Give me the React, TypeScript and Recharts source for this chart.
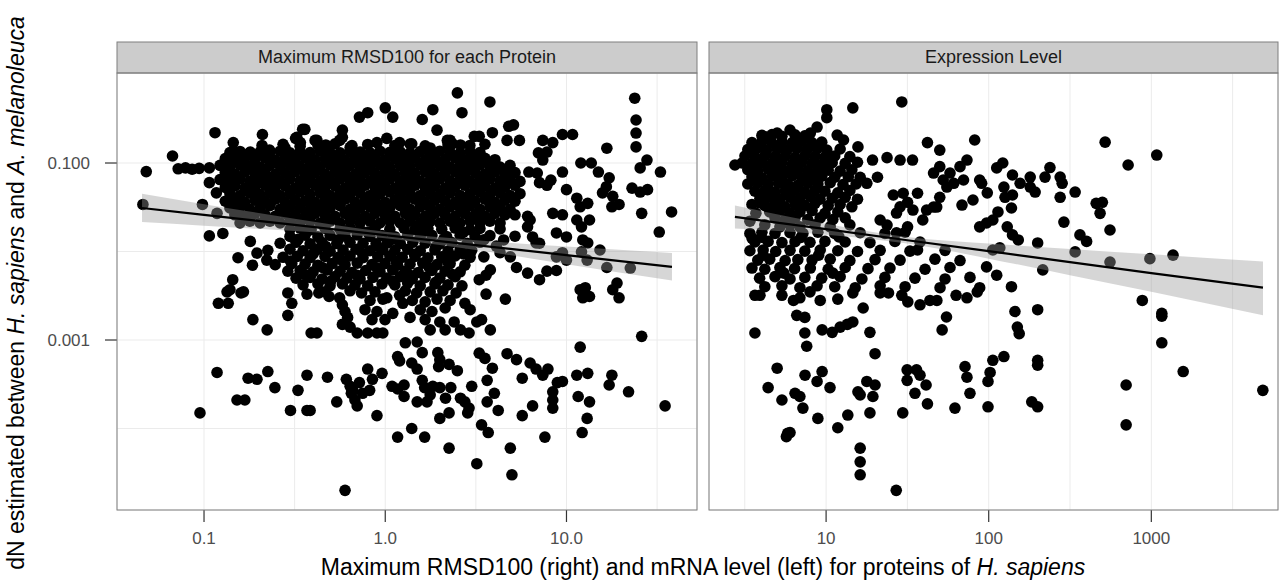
import React from "react";
import { ComposedChart, Scatter, Area, Line, XAxis, YAxis, CartesianGrid } from "recharts";

// left facet: [max RMSD100, dN]
const rmsdPoints: [number, number][] = [
  // sparse, top / left
  [0.046, 0.034], [0.048, 0.08], [0.067, 0.12], [0.072, 0.086], [0.079, 0.088], [0.086, 0.085], [0.094, 0.087],
  [0.107, 0.088], [0.107, 0.06], [0.117, 0.046], [0.098, 0.034], [0.115, 0.22], [0.21, 0.21], [0.145, 0.17],
  [0.15, 0.13], [0.35, 0.24], [0.325, 0.195], [0.42, 0.18], [0.58, 0.235], [0.58, 0.195], [0.72, 0.33],
  [0.8, 0.37], [1.0, 0.42], [1.1, 0.33], [2.5, 0.62], [3.78, 0.49], [1.83, 0.4], [2.65, 0.37], [1.6, 0.31],
  [1.93, 0.235], [2.2, 0.18], [2.35, 0.165], [3.3, 0.2], [3.9, 0.22], [4.8, 0.26], [5.1, 0.27], [4.7, 0.18],
  [5.5, 0.18], [7.4, 0.18], [8.4, 0.17], [9.5, 0.21], [10.8, 0.21], [7.0, 0.13], [7.8, 0.133], [7.4, 0.108],
  [6.2, 0.079], [6.9, 0.077], [7.1, 0.06], [9.5, 0.079], [8.2, 0.064], [7.8, 0.056], [10, 0.05], [12, 0.1],
  [13.7, 0.1], [15, 0.079], [16.7, 0.147], [17.2, 0.068], [16.6, 0.054], [15.8, 0.046], [18, 0.042],
  [19.5, 0.034], [17.8, 0.032], [23.8, 0.54], [24.2, 0.306], [24.2, 0.218], [24.2, 0.152], [27.8, 0.108],
  [25.5, 0.088], [23, 0.052], [25.5, 0.047], [28, 0.05], [33, 0.079], [26, 0.027], [38, 0.028], [32.5, 0.0166],
  [11.4, 0.04], [13.1, 0.035], [11.9, 0.032], [11.4, 0.0227], [13.4, 0.0227], [12.1, 0.019], [8.4, 0.027],
  [9.5, 0.026], [8.8, 0.0162], [10, 0.0146], [12.3, 0.0135], [13.1, 0.0125], [15.3, 0.0104], [9.5, 0.0097],
  [12.1, 0.0099], [8.8, 0.0087], [10, 0.008], [13.0, 0.008], [16.7, 0.0066], [19, 0.0044], [12.7, 0.0039],
  [13.4, 0.0031], [22.5, 0.0065], [6.1, 0.019], [6.5, 0.0146], [6.8, 0.0125], [7.1, 0.0124], [5.3, 0.0066],
  [6.1, 0.0057], [7.1, 0.0048], [7.8, 0.006], [8.8, 0.0061], [6.3, 0.0227], [6.1, 0.025], [5.2, 0.026],
  [4.5, 0.0135], [4.1, 0.0115], [4.3, 0.0097], [4.9, 0.0087], [3.5, 0.0087], [3.8, 0.0062], [3.3, 0.0048],
  [3.6, 0.0054],
  // ragged top edge of the dense band
  [0.36, 0.24], [0.32, 0.19], [0.34, 0.17], [0.41, 0.18], [0.47, 0.16], [0.56, 0.18], [0.64, 0.15],
  [0.9, 0.17], [1.02, 0.19], [1.2, 0.17], [1.4, 0.165], [1.77, 0.148], [2.28, 0.18], [2.6, 0.16], [3.1, 0.2],
  [0.18, 0.133], [0.23, 0.14], [0.28, 0.148],
  // sparse, lower left
  [0.107, 0.015], [0.127, 0.016], [0.18, 0.013], [0.154, 0.0085], [0.196, 0.0096], [0.222, 0.008], [0.185, 0.007],
  [0.144, 0.0048], [0.165, 0.0035], [0.139, 0.0037], [0.118, 0.027], [0.152, 0.027], [0.12, 0.0026],
  [0.136, 0.0026], [0.16, 0.0034], [0.134, 0.0035], [0.186, 0.0017], [0.223, 0.0013], [0.29, 0.0034],
  [0.305, 0.0026], [0.29, 0.0019], [0.37, 0.0033], [0.43, 0.0034], [0.49, 0.0031], [0.39, 0.0012], [0.42, 0.0012],
  [0.56, 0.003], [0.58, 0.0025], [0.6, 0.0021], [0.62, 0.0018], [0.58, 0.0015], [0.64, 0.0014], [0.7, 0.0012],
  [0.8, 0.0012], [0.9, 0.0012], [0.97, 0.0012], [0.9, 0.0021], [1.1, 0.002], [1.25, 0.0026], [1.2, 0.0032],
  [1.02, 0.003], [1.29, 0.00093], [1.17, 0.00065], [1.2, 0.00058], [0.118, 0.00043], [0.175, 0.00037],
  [0.196, 0.00036], [0.225, 0.00044], [0.246, 0.00029], [0.152, 0.00021], [0.168, 0.00021], [0.095, 0.00015],
  [0.3, 0.00016], [0.37, 0.00016], [0.385, 0.00016], [0.33, 0.00027], [0.37, 0.0004], [0.48, 0.00038],
  [0.54, 0.0002], [0.61, 0.00036], [0.64, 0.0003], [0.65, 0.00025], [0.68, 0.00021], [0.7, 0.00018],
  [0.75, 0.00025], [0.82, 0.00027], [0.85, 0.00036], [0.8, 0.00047], [0.96, 0.00042], [0.72, 0.00033],
  [0.66, 0.00027], [0.9, 0.00014], [1.17, 0.00008], [0.6, 0.00002], [1.09, 0.0003], [1.17, 0.00028],
  [1.27, 0.00031], [1.27, 0.00023],
  // sparse, lower right
  [3.8, 0.0013], [1.5, 0.00095], [1.6, 0.00072], [1.4, 0.00055], [1.5, 0.00047], [1.95, 0.00072], [2.0, 0.0006],
  [1.97, 0.0005], [2.25, 0.00053], [2.5, 0.00045], [1.6, 0.00035], [1.65, 0.00029], [1.77, 0.00024],
  [1.83, 0.0003], [2.0, 0.00029], [2.3, 0.00029], [1.5, 0.0002], [1.7, 0.0002], [2.15, 0.00022], [2.6, 0.00022],
  [2.75, 0.0002], [2.9, 0.00017], [2.25, 0.00015], [2.0, 0.00013], [2.85, 0.00015], [1.4, 0.0001],
  [1.65, 0.00008], [2.25, 0.00006], [3.3, 0.00071], [3.55, 0.00062], [3.9, 0.00048], [3.65, 0.00035],
  [3.0, 0.0003], [4.0, 0.00025], [3.65, 0.0002], [4.2, 0.00016], [3.4, 0.00011], [3.7, 0.00009], [3.2, 0.00004],
  [4.9, 0.00006], [5.0, 0.00003], [4.7, 0.0007], [5.3, 0.0006], [6.3, 0.00055], [6.8, 0.00047], [7.4, 0.0004],
  [7.9, 0.00047], [5.7, 0.00037], [8.4, 0.00026], [8.9, 0.00033], [9.5, 0.00034], [8.4, 0.00021], [8.4, 0.00017],
  [6.5, 0.00018], [5.7, 0.00014], [7.6, 0.00008], [11.9, 0.00083], [11.4, 0.0004], [13.1, 0.00042],
  [11.6, 0.00023], [13.4, 0.0002], [13, 0.00013], [12.2, 0.00009], [17.8, 0.0004], [17.2, 0.00031], [22, 0.00026],
  [26, 0.0011], [35, 0.00018], [11.9, 0.0037], [12.3, 0.003], [18, 0.0037], [19.5, 0.003], [2.75, 0.0026],
  [3.4, 0.0017], [3.2, 0.0016], [2.4, 0.0016], [2.6, 0.0013], [2.9, 0.0012], [3.6, 0.0033], [4.6, 0.0029],
  // dense band, above the fit
  [0.209, 0.158], [0.273, 0.163], [0.339, 0.155], [0.425, 0.16], [0.528, 0.165], [0.655, 0.157], [0.8, 0.162],
  [1.13, 0.158], [1.37, 0.164], [1.66, 0.156], [2.22, 0.16], [2.93, 0.158], [3.55, 0.163],
  [0.139, 0.131], [0.158, 0.135], [0.179, 0.13], [0.204, 0.134], [0.231, 0.132], [0.263, 0.136], [0.298, 0.13],
  [0.339, 0.134], [0.385, 0.131], [0.437, 0.137], [0.496, 0.132], [0.563, 0.13], [0.639, 0.135], [0.726, 0.133],
  [0.824, 0.13], [0.935, 0.136], [1.06, 0.132], [1.21, 0.134], [1.37, 0.13], [1.56, 0.135], [1.77, 0.131],
  [2.0, 0.136], [2.28, 0.132], [2.59, 0.13], [2.94, 0.134], [3.33, 0.131],
  [0.131, 0.112], [0.148, 0.109], [0.168, 0.113], [0.191, 0.11], [0.217, 0.114], [0.247, 0.108], [0.28, 0.112],
  [0.318, 0.11], [0.361, 0.114], [0.41, 0.109], [0.465, 0.111], [0.528, 0.113], [0.6, 0.108], [0.681, 0.112],
  [0.773, 0.11], [0.878, 0.114], [0.997, 0.109], [1.13, 0.112], [1.29, 0.11], [1.46, 0.113], [1.66, 0.108],
  [1.88, 0.112], [2.14, 0.11], [2.43, 0.114], [2.75, 0.109], [3.13, 0.111], [3.55, 0.113], [4.03, 0.109],
  [0.1225, 0.094], [0.139, 0.091], [0.158, 0.095], [0.179, 0.092], [0.204, 0.09], [0.231, 0.094], [0.263, 0.092],
  [0.298, 0.096], [0.339, 0.091], [0.385, 0.093], [0.437, 0.09], [0.496, 0.095], [0.563, 0.092], [0.639, 0.094],
  [0.726, 0.091], [0.824, 0.093], [0.935, 0.095], [1.06, 0.09], [1.21, 0.093], [1.37, 0.091], [1.56, 0.095],
  [1.77, 0.092], [2.0, 0.094], [2.28, 0.09], [2.59, 0.093], [2.94, 0.091], [3.33, 0.095], [3.78, 0.092],
  [4.3, 0.09], [4.88, 0.094],
  [0.131, 0.078], [0.148, 0.075], [0.168, 0.079], [0.191, 0.076], [0.217, 0.078], [0.247, 0.074], [0.28, 0.077],
  [0.318, 0.08], [0.361, 0.076], [0.41, 0.078], [0.465, 0.075], [0.528, 0.079], [0.6, 0.077], [0.681, 0.074],
  [0.773, 0.078], [0.878, 0.076], [0.997, 0.079], [1.13, 0.075], [1.29, 0.078], [1.46, 0.076], [1.66, 0.079],
  [1.88, 0.075], [2.14, 0.077], [2.43, 0.08], [2.75, 0.076], [3.13, 0.078], [3.55, 0.075], [4.03, 0.079],
  [4.58, 0.076], [5.2, 0.078],
  [0.1225, 0.065], [0.139, 0.063], [0.158, 0.066], [0.179, 0.062], [0.204, 0.065], [0.231, 0.064], [0.263, 0.062],
  [0.298, 0.066], [0.339, 0.063], [0.385, 0.065], [0.437, 0.062], [0.496, 0.064], [0.563, 0.066], [0.639, 0.063],
  [0.726, 0.065], [0.824, 0.062], [0.935, 0.064], [1.06, 0.066], [1.21, 0.063], [1.37, 0.065], [1.56, 0.062],
  [1.77, 0.064], [2.0, 0.066], [2.28, 0.063], [2.59, 0.065], [2.94, 0.062], [3.33, 0.064], [3.78, 0.066],
  [4.3, 0.063], [4.88, 0.065], [5.54, 0.062],
  [0.131, 0.053], [0.148, 0.055], [0.168, 0.052], [0.191, 0.054], [0.217, 0.056], [0.247, 0.053], [0.28, 0.055],
  [0.318, 0.052], [0.361, 0.054], [0.41, 0.056], [0.465, 0.053], [0.528, 0.055], [0.6, 0.052], [0.681, 0.054],
  [0.773, 0.056], [0.878, 0.053], [0.997, 0.055], [1.13, 0.052], [1.29, 0.054], [1.46, 0.056], [1.66, 0.053],
  [1.88, 0.055], [2.14, 0.052], [2.43, 0.054], [2.75, 0.056], [3.13, 0.053], [3.55, 0.055], [4.03, 0.052],
  [4.58, 0.054], [5.2, 0.056],
  [0.139, 0.045], [0.158, 0.043], [0.179, 0.046], [0.204, 0.044], [0.231, 0.046], [0.263, 0.043], [0.298, 0.045],
  [0.339, 0.047], [0.385, 0.044], [0.437, 0.046], [0.496, 0.043], [0.563, 0.045], [0.639, 0.044], [0.726, 0.046],
  [0.824, 0.043], [0.935, 0.045], [1.06, 0.047], [1.21, 0.044], [1.37, 0.046], [1.56, 0.043], [1.77, 0.045],
  [2.0, 0.044], [2.28, 0.046], [2.59, 0.043], [2.94, 0.045], [3.33, 0.047], [3.78, 0.044], [4.3, 0.046],
  [4.88, 0.043], [5.54, 0.045],
  [0.131, 0.037], [0.148, 0.038], [0.168, 0.036], [0.191, 0.038], [0.217, 0.037], [0.247, 0.039], [0.28, 0.036],
  [0.318, 0.038], [0.361, 0.037], [0.41, 0.036], [0.465, 0.038], [0.528, 0.037], [0.6, 0.039], [0.681, 0.036],
  [0.773, 0.038], [0.878, 0.037], [0.997, 0.036], [1.13, 0.038], [1.29, 0.037], [1.46, 0.039], [1.66, 0.036],
  [1.88, 0.038], [2.14, 0.037], [2.43, 0.036], [2.75, 0.038], [3.13, 0.037], [3.55, 0.039], [4.03, 0.036],
  [4.58, 0.038], [5.2, 0.037],
  [0.139, 0.031], [0.158, 0.032], [0.179, 0.03], [0.204, 0.031], [0.231, 0.033], [0.263, 0.03], [0.298, 0.032],
  [0.339, 0.031], [0.385, 0.03], [0.437, 0.032], [0.496, 0.031], [0.563, 0.033], [0.639, 0.03], [0.726, 0.031],
  [0.824, 0.032], [0.935, 0.03], [1.06, 0.031], [1.21, 0.033], [1.37, 0.03], [1.56, 0.032], [1.77, 0.031],
  [2.0, 0.03], [2.28, 0.032], [2.59, 0.031], [2.94, 0.033], [3.33, 0.03], [3.78, 0.032], [4.3, 0.031], [4.88, 0.03],
  [0.148, 0.026], [0.168, 0.025], [0.191, 0.027], [0.217, 0.026], [0.247, 0.025], [0.28, 0.027], [0.318, 0.026],
  [0.361, 0.025], [0.41, 0.027], [0.465, 0.026], [0.528, 0.025], [0.6, 0.027], [0.681, 0.026], [0.773, 0.025],
  [0.878, 0.027], [0.997, 0.026], [1.13, 0.025], [1.29, 0.027], [1.46, 0.026], [1.66, 0.025], [1.88, 0.027],
  [2.14, 0.026], [2.43, 0.025], [2.75, 0.027], [3.13, 0.026], [3.55, 0.025], [4.03, 0.027], [4.58, 0.026],
  [0.158, 0.021], [0.179, 0.022], [0.204, 0.021], [0.231, 0.022], [0.263, 0.021], [0.298, 0.022], [0.339, 0.021],
  [0.385, 0.022], [0.437, 0.021], [0.496, 0.022], [0.563, 0.021], [0.639, 0.022], [0.726, 0.021], [0.824, 0.022],
  [0.935, 0.021], [1.06, 0.022], [1.21, 0.021], [1.37, 0.022], [1.56, 0.021], [1.77, 0.022], [2.0, 0.021],
  [2.28, 0.022], [2.59, 0.021], [2.94, 0.022], [3.33, 0.021], [3.78, 0.022], [4.3, 0.021],
  // dense band, below the fit
  [0.298, 0.0178], [0.339, 0.0184], [0.39, 0.0176], [0.465, 0.0183], [0.563, 0.0179], [0.64, 0.0185],
  [0.726, 0.0177], [0.878, 0.0182], [1.06, 0.0178], [1.27, 0.0184], [1.46, 0.0177], [1.72, 0.0182],
  [2.05, 0.0179], [2.43, 0.0184], [2.94, 0.0176], [3.33, 0.0182], [4.3, 0.018],
  [0.36, 0.0165], [0.8, 0.0166], [1.6, 0.0164], [2.7, 0.0165],
  [0.298, 0.0148], [0.361, 0.0153], [0.425, 0.0147], [0.496, 0.0152], [0.6, 0.0149], [0.7, 0.0154],
  [0.824, 0.0148], [0.96, 0.0151], [1.13, 0.0147], [1.33, 0.0153], [1.56, 0.0149], [1.81, 0.0152],
  [2.18, 0.0148], [2.59, 0.0153], [3.13, 0.0147], [3.78, 0.0151], [5.2, 0.0149],
  [0.33, 0.0137], [0.55, 0.0136], [1.1, 0.0138], [2.1, 0.0137], [3.5, 0.0136],
  [0.263, 0.0124], [0.322, 0.0127], [0.385, 0.0122], [0.448, 0.0126], [0.54, 0.0123], [0.639, 0.0127],
  [0.754, 0.0124], [0.89, 0.0122], [1.03, 0.0126], [1.21, 0.0123], [1.42, 0.0127], [1.66, 0.0124],
  [2.0, 0.0122], [2.33, 0.0126], [2.83, 0.0124], [3.33, 0.0127],
  [0.47, 0.0114], [0.9, 0.0115], [1.9, 0.0113],
  [0.225, 0.0103], [0.298, 0.0106], [0.352, 0.0102], [0.42, 0.0105], [0.496, 0.0101], [0.585, 0.0104],
  [0.69, 0.0106], [0.824, 0.0102], [0.97, 0.0105], [1.13, 0.0103], [1.33, 0.0106], [1.56, 0.0102],
  [1.88, 0.0104], [2.22, 0.0101], [2.59, 0.0105], [3.0, 0.0103],
  [0.4, 0.0094], [0.75, 0.0095], [1.45, 0.0093], [2.7, 0.0094],
  [0.273, 0.0086], [0.327, 0.0088], [0.385, 0.0085], [0.465, 0.0088], [0.55, 0.0086], [0.639, 0.0089],
  [0.754, 0.0085], [0.91, 0.0087], [1.06, 0.0089], [1.24, 0.0086], [1.46, 0.0088], [1.72, 0.0085],
  [2.05, 0.0087], [2.43, 0.0089], [2.94, 0.0086],
  [0.3, 0.0078], [0.58, 0.0079], [1.15, 0.0077], [2.2, 0.0078],
  [0.247, 0.0071], [0.305, 0.0073], [0.361, 0.0072], [0.425, 0.007], [0.51, 0.0073], [0.6, 0.0071],
  [0.7, 0.0074], [0.845, 0.0071], [0.997, 0.0073], [1.17, 0.007], [1.37, 0.0072], [1.61, 0.0074],
  [1.93, 0.0071], [2.28, 0.0073], [2.75, 0.007],
  [0.45, 0.0066], [0.9, 0.0065], [1.75, 0.0066],
  [0.29, 0.006], [0.339, 0.0061], [0.4, 0.0059], [0.478, 0.0062], [0.563, 0.006], [0.655, 0.0058],
  [0.78, 0.0061], [0.935, 0.0059], [1.1, 0.0062], [1.29, 0.006], [1.52, 0.0058], [1.81, 0.0061],
  [2.14, 0.006], [2.59, 0.0059],
  [0.36, 0.0055], [0.7, 0.0054], [1.35, 0.0055], [2.35, 0.0055],
  [0.322, 0.005], [0.385, 0.0051], [0.448, 0.0049], [0.528, 0.0052], [0.615, 0.005], [0.726, 0.0049],
  [0.855, 0.0051], [1.02, 0.005], [1.21, 0.0052], [1.41, 0.0049], [1.66, 0.0051], [2.0, 0.005], [2.43, 0.0052],
  [0.5, 0.0046], [1.1, 0.0046], [1.9, 0.0045],
  [0.352, 0.0042], [0.425, 0.0043], [0.496, 0.0041], [0.58, 0.0043], [0.681, 0.0042], [0.8, 0.0041],
  [0.96, 0.0043], [1.13, 0.0042], [1.33, 0.0044], [1.56, 0.0041], [1.88, 0.0043], [2.22, 0.0042], [2.65, 0.0041],
  [0.465, 0.0035], [0.639, 0.0036], [0.74, 0.0034], [0.878, 0.0035], [1.29, 0.0036], [1.49, 0.0034],
  [1.77, 0.0035], [2.08, 0.0036], [2.46, 0.0034],
  [0.824, 0.0028], [0.97, 0.0029], [1.41, 0.0028], [1.66, 0.0027], [1.93, 0.0029], [2.28, 0.0028],
  [0.773, 0.0022], [1.56, 0.0022], [1.81, 0.0021], [2.14, 0.0023], [2.94, 0.0022],
  [0.845, 0.0017], [0.997, 0.0017], [1.37, 0.0018], [1.66, 0.0017], [2.0, 0.0016],
  [1.77, 0.0013], [2.14, 0.0013],
];

// right facet: [mRNA level, dN]
const mrnaPoints: [number, number][] = [
  // sparse
  [29.2, 0.49], [14.6, 0.42], [10.1, 0.4], [10.1, 0.325], [8.8, 0.255], [11.7, 0.207], [12.8, 0.182],
  [15.7, 0.152], [42, 0.17], [50, 0.14], [82, 0.182], [5.0, 0.218], [6.0, 0.236], [4.3, 0.196], [8.0, 0.218],
  [2.75, 0.095], [19.3, 0.108], [23.7, 0.115], [28.5, 0.108], [34, 0.108], [16.2, 0.069], [17.8, 0.059],
  [20.7, 0.069], [25.9, 0.0435], [29.8, 0.0455], [36.5, 0.0455], [31.7, 0.036], [28.5, 0.032], [34.2, 0.0294],
  [27.1, 0.0272], [41.5, 0.0294], [39.3, 0.0227], [45.8, 0.0318], [45.8, 0.077], [50, 0.091], [57.8, 0.077],
  [66.6, 0.091], [73.5, 0.108], [70, 0.0643], [61, 0.059], [52.5, 0.0643], [50, 0.041], [55.3, 0.0535],
  [47.9, 0.0318], [68.5, 0.0335], [80, 0.0382], [90.5, 0.059], [23.7, 0.0199], [27.1, 0.0163], [21.5, 0.0227],
  [36.5, 0.0104], [31.7, 0.019], [3.5, 0.0142], [3.9, 0.0355],
  [520, 0.172], [1080, 0.123], [720, 0.095], [112, 0.088], [122, 0.1], [140, 0.0732], [156, 0.059],
  [180, 0.0693], [180, 0.0535], [238, 0.0889], [222, 0.0693], [275, 0.0693], [283, 0.059], [88, 0.0643],
  [98, 0.046], [124, 0.0535], [140, 0.0435], [126, 0.041], [193, 0.047], [275, 0.041], [340, 0.047],
  [138, 0.031], [114, 0.028], [106, 0.0227], [97, 0.021], [88, 0.019], [458, 0.035], [500, 0.036], [484, 0.027],
  [290, 0.0215], [557, 0.0175], [130, 0.019], [140, 0.0154], [152, 0.0135], [364, 0.0154], [400, 0.013],
  [200, 0.0125], [340, 0.0099], [557, 0.0076], [980, 0.0083], [1360, 0.0091], [215, 0.0062], [106, 0.0104],
  [117, 0.011], [97, 0.0067], [112, 0.0054], [138, 0.004], [88, 0.0039], [880, 0.0028],
  [145, 0.0021], [200, 0.0022], [150, 0.0014], [154, 0.00118], [106, 0.00059], [124, 0.00065], [102, 0.00043],
  [99, 0.00034], [99, 0.000176], [200, 0.00059], [200, 0.00052], [184, 0.0002], [200, 0.000176],
  [1160, 0.002], [1160, 0.00186], [1160, 0.00093], [1570, 0.00044], [700, 0.00031], [700, 0.00011],
  [4850, 0.00027],
  [3.65, 0.0032], [3.92, 0.0032], [5.35, 0.0032], [6.3, 0.0028], [6.9, 0.003], [7.96, 0.0035], [9.2, 0.0028],
  [11.8, 0.0029], [14.6, 0.0034], [16.9, 0.0023], [21.5, 0.0034], [24.2, 0.0034], [29.2, 0.0032],
  [31.8, 0.0027], [37.8, 0.0025], [43.5, 0.0028], [48, 0.0028], [63, 0.0032], [73.5, 0.003], [85, 0.0035],
  [3.65, 0.0012], [6.6, 0.0019], [7.4, 0.0018], [7.4, 0.0012], [7.6, 0.00085], [9.45, 0.0013], [10.9, 0.00122],
  [12.2, 0.0014], [13.5, 0.0015], [14.6, 0.0016], [18.6, 0.00122], [20, 0.0007], [55, 0.00182], [51.7, 0.0013],
  [5.0, 0.00048], [4.4, 0.00029], [5.35, 0.00021], [6.44, 0.00025], [6.9, 0.00023], [7.2, 0.00017],
  [7.42, 0.0004], [9.45, 0.00044], [8.8, 0.00034], [10.57, 0.00029], [8.9, 0.00013], [5.8, 0.000088],
  [6.0, 0.00009], [5.7, 0.000081], [11.8, 0.000102], [13.6, 0.000142], [15.7, 0.00026], [16.2, 0.00024],
  [17.8, 0.00034], [20, 0.00031], [19.4, 0.00023], [18.6, 0.00015], [16.2, 0.00006], [16.2, 0.000042],
  [16.2, 0.00003], [27, 0.00002], [29.6, 0.00015], [31.5, 0.00046], [31.5, 0.00035], [36, 0.00046],
  [37.8, 0.0004], [35.2, 0.00025], [41.2, 0.00031], [42, 0.00019], [62, 0.00017], [71.5, 0.0005],
  [73.5, 0.00038], [76.7, 0.00025],
  // dense block
  [4.03, 0.205], [4.65, 0.21], [5.35, 0.2], [6.44, 0.208], [7.4, 0.203],
  [3.5, 0.17], [4.03, 0.175], [4.65, 0.168], [5.35, 0.173], [6.2, 0.17], [7.1, 0.176], [8.2, 0.169], [9.4, 0.172],
  [3.3, 0.142], [3.75, 0.146], [4.3, 0.14], [5.0, 0.144], [5.75, 0.141], [6.6, 0.146], [7.6, 0.142],
  [8.8, 0.145], [10.1, 0.14], [12.2, 0.144],
  [3.17, 0.12], [3.65, 0.117], [4.2, 0.121], [4.85, 0.118], [5.6, 0.12], [6.44, 0.116], [7.4, 0.121],
  [8.55, 0.119], [9.84, 0.117], [11.3, 0.12], [14, 0.118],
  [3.04, 0.1], [3.5, 0.098], [4.03, 0.102], [4.65, 0.099], [5.35, 0.101], [6.2, 0.098], [7.1, 0.102],
  [8.2, 0.1], [9.4, 0.097], [10.9, 0.101], [13.1, 0.099], [15.6, 0.102],
  [3.3, 0.084], [3.8, 0.082], [4.4, 0.085], [5.1, 0.083], [5.8, 0.081], [6.7, 0.084], [7.7, 0.082],
  [8.9, 0.085], [10.3, 0.083], [12.2, 0.081], [14.4, 0.084],
  [3.5, 0.07], [4.03, 0.068], [4.65, 0.071], [5.35, 0.069], [6.2, 0.072], [7.1, 0.068], [8.2, 0.07],
  [9.4, 0.071], [11.3, 0.069], [13.7, 0.07],
  [3.3, 0.058], [3.8, 0.06], [4.4, 0.057], [5.1, 0.059], [5.8, 0.058], [6.7, 0.056], [7.7, 0.059],
  [8.9, 0.058], [10.6, 0.06], [12.7, 0.057], [15.3, 0.058],
  [3.65, 0.048], [4.2, 0.049], [4.85, 0.047], [5.6, 0.048], [6.44, 0.05], [7.4, 0.047], [8.55, 0.049],
  [9.84, 0.048], [11.8, 0.046], [14, 0.049],
  [3.92, 0.04], [4.52, 0.041], [5.21, 0.039], [6.0, 0.041], [6.9, 0.04], [7.96, 0.042], [9.17, 0.039],
  [10.9, 0.04], [13.1, 0.041], [15.6, 0.039],
  [3.5, 0.034], [4.2, 0.033], [4.85, 0.034], [5.6, 0.032], [6.44, 0.034], [7.4, 0.033], [8.55, 0.035],
  [10.3, 0.033], [12.2, 0.034], [14.4, 0.032],
  [3.7, 0.027], [4.5, 0.028], [5.2, 0.029], [6.0, 0.027], [6.9, 0.028], [8.2, 0.029], [9.84, 0.027], [11.8, 0.028],
  [3.4, 0.022], [4.85, 0.024], [5.6, 0.023], [6.44, 0.024], [7.7, 0.023], [9.2, 0.024], [11, 0.023], [13.1, 0.024],
  [4.2, 0.02], [5.2, 0.019], [6.0, 0.02], [6.9, 0.019], [8.55, 0.02], [10.6, 0.019], [14, 0.02],
  [3.4, 0.016], [4.03, 0.0165], [4.85, 0.016], [6.0, 0.0163], [7.2, 0.016], [8.9, 0.0165], [11.3, 0.016],
  [16.2, 0.0163], [23, 0.016], [30.6, 0.0165],
  [4.0, 0.0145], [7.0, 0.0144], [12, 0.0146],
  [3.65, 0.0128], [4.4, 0.013], [5.35, 0.0126], [6.44, 0.0129], [7.96, 0.0127], [9.84, 0.013], [13.1, 0.0128],
  [18.6, 0.0126], [26.5, 0.013], [37.8, 0.0128],
  [3.4, 0.0102], [4.1, 0.0104], [4.9, 0.01], [6.0, 0.0103], [7.4, 0.0101], [9.2, 0.0104], [11.8, 0.0102],
  [15.6, 0.01], [21.5, 0.0103], [32.8, 0.0101], [53.9, 0.0103],
  [4.1, 0.0091], [9.0, 0.0091],
  [3.8, 0.008], [4.5, 0.0082], [5.6, 0.0079], [6.7, 0.0081], [8.2, 0.008], [10.6, 0.0082], [14, 0.0079],
  [20, 0.0081], [28.5, 0.008], [46.7, 0.0082], [66.6, 0.0079],
  [3.5, 0.0065], [4.2, 0.0063], [5.2, 0.0066], [6.4, 0.0064], [8.0, 0.0065], [10.3, 0.0063], [13.1, 0.0066],
  [18.1, 0.0064], [24.7, 0.0065], [40.6, 0.0063], [57.8, 0.0066],
  [5.5, 0.0057], [11, 0.0057],
  [3.9, 0.005], [4.85, 0.0052], [6.0, 0.0049], [7.4, 0.0051], [9.4, 0.005], [12.2, 0.0052], [16.6, 0.0049],
  [23, 0.0051], [35.2, 0.005], [53.9, 0.0049], [76.7, 0.0051],
  [4.2, 0.004], [5.35, 0.0041], [6.9, 0.0039], [8.8, 0.0041], [11.3, 0.004], [15.1, 0.0039], [21.5, 0.0041],
  [30.6, 0.004], [50.2, 0.0039],
];

// linear fits on log-log scale with confidence band
const rmsdFitX = [0.0455, 0.1, 0.316, 1, 3.16, 10, 38.2];
const rmsdFitY = [0.031, 0.0259, 0.02, 0.0153, 0.0118, 0.0091, 0.0067];
const rmsdFitLow = [0.0215, 0.0196, 0.017, 0.0141, 0.0104, 0.0072, 0.0047];
const rmsdFitHigh = [0.0448, 0.0343, 0.0235, 0.0167, 0.0134, 0.0114, 0.0096];

const mrnaFitX = [2.75, 10, 31.6, 100, 316, 1000, 4860];
const mrnaFitY = [0.0246, 0.0179, 0.0134, 0.0101, 0.0076, 0.0057, 0.0039];
const mrnaFitLow = [0.0182, 0.0155, 0.0123, 0.0083, 0.0054, 0.0035, 0.0019];
const mrnaFitHigh = [0.0331, 0.0206, 0.0146, 0.0123, 0.0107, 0.0093, 0.0077];

// axes
const yDomain = [1.2e-5, 1.04];
const yTicks = [0.0001, 0.001, 0.01, 0.1];
const yLabels = ["", "0.001", "", "0.100"];
const rmsdDomain = [0.0331, 52.5];
const rmsdTicks = [0.1, 0.3162, 1, 3.162, 10, 31.62];
const rmsdLabels = ["0.1", "", "1.0", "", "10.0", ""];
const mrnaDomain = [1.905, 6012];
const mrnaTicks = [3.162, 10, 31.62, 100, 316.2, 1000, 3162];
const mrnaLabels = ["", "10", "", "100", "", "1000", ""];

const facetTitles = ["Maximum RMSD100 for each Protein", "Expression Level"];

const W = 1279;
const H = 581;
const TOP = 73;
const BOTTOM = 510;
const PANELS = [
  { x0: 117, x1: 697 },
  { x0: 709, x1: 1278 },
];
const TICK = 12;
const X_GAP = 10;
const Y_GAP = 15;
const FONT = '"Liberation Sans", Arial, Helvetica, sans-serif';

const lg = Math.log10;

const findLabel = (ticks: number[], labels: string[], v: number) => {
  const i = ticks.findIndex((t) => Math.abs(lg(t) - v) < 1e-6);
  return i >= 0 ? labels[i] : "";
};

const makeXTick = (ticks: number[], labels: string[]) => (props: any) => {
  const { x, y, payload } = props;
  const label = findLabel(ticks, labels, payload.value);
  if (!label) return <g />;
  return (
    <g>
      <line x1={x} x2={x} y1={y - X_GAP - TICK} y2={y - X_GAP} stroke="#333" strokeWidth={1.2} />
      <text x={x} y={y} dy="0.71em" textAnchor="middle" fontSize={17} fill="#4d4d4d" fontFamily={FONT}>
        {label}
      </text>
    </g>
  );
};

const YTick = (props: any) => {
  const { x, y, payload } = props;
  const label = findLabel(yTicks, yLabels, payload.value);
  if (!label) return <g />;
  return (
    <g>
      <line x1={x + Y_GAP} x2={x + Y_GAP + TICK} y1={y} y2={y} stroke="#333" strokeWidth={1.2} />
      <text x={x} y={y} dy="0.355em" textAnchor="end" fontSize={17} fill="#4d4d4d" fontFamily={FONT}>
        {label}
      </text>
    </g>
  );
};

const Dot = (p: any) => <circle cx={p.cx} cy={p.cy} r={5.8} fill="#000" />;

const Facet = ({ points, fitX, fitY, fitLow, fitHigh, domain, ticks, labels, panel, showY }: any) => {
  const pts = points.map(([x, y]: number[]) => ({ x: lg(x), y: lg(y) }));
  const fit = fitX.map((x: number, i: number) => ({
    x: lg(x),
    fit: lg(fitY[i]),
    band: [lg(fitLow[i]), lg(fitHigh[i])],
  }));
  return (
    <div style={{ position: "absolute", left: 0, top: 0 }}>
      <ComposedChart
        width={W}
        height={H}
        margin={{ top: TOP, right: W - panel.x1, bottom: 0, left: showY ? 0 : panel.x0 }}
      >
        <CartesianGrid stroke="#ebebeb" />
        <XAxis
          type="number"
          dataKey="x"
          domain={[lg(domain[0]), lg(domain[1])]}
          ticks={ticks.map(lg)}
          interval={0}
          allowDataOverflow
          height={H - BOTTOM}
          axisLine={false}
          tickLine={false}
          tickSize={TICK}
          tickMargin={X_GAP}
          tick={makeXTick(ticks, labels)}
        />
        <YAxis
          type="number"
          domain={[lg(yDomain[0]), lg(yDomain[1])]}
          ticks={yTicks.map(lg)}
          interval={0}
          allowDataOverflow
          width={showY ? panel.x0 : 0}
          axisLine={false}
          tickLine={false}
          tickSize={TICK}
          tickMargin={Y_GAP}
          tick={showY ? YTick : false}
        />
        <Scatter data={pts} dataKey="y" shape={Dot} isAnimationActive={false} />
        <Area
          data={fit}
          dataKey="band"
          type="monotone"
          stroke="none"
          fill="#999999"
          fillOpacity={0.4}
          isAnimationActive={false}
          zIndex={700}
        />
        <Line
          data={fit}
          dataKey="fit"
          type="linear"
          stroke="#000"
          strokeWidth={2.2}
          dot={false}
          activeDot={false}
          isAnimationActive={false}
          zIndex={800}
        />
      </ComposedChart>
    </div>
  );
};

export default function App() {
  return (
    <div
      style={{
        position: "absolute",
        left: 0,
        top: 0,
        width: W,
        height: H,
        background: "#fff",
        fontFamily: FONT,
        overflow: "hidden",
      }}
    >
      <Facet
        points={rmsdPoints}
        fitX={rmsdFitX}
        fitY={rmsdFitY}
        fitLow={rmsdFitLow}
        fitHigh={rmsdFitHigh}
        domain={rmsdDomain}
        ticks={rmsdTicks}
        labels={rmsdLabels}
        panel={PANELS[0]}
        showY
      />
      <Facet
        points={mrnaPoints}
        fitX={mrnaFitX}
        fitY={mrnaFitY}
        fitLow={mrnaFitLow}
        fitHigh={mrnaFitHigh}
        domain={mrnaDomain}
        ticks={mrnaTicks}
        labels={mrnaLabels}
        panel={PANELS[1]}
        showY={false}
      />
      <svg
        width={W}
        height={H}
        style={{ position: "absolute", left: 0, top: 0, pointerEvents: "none" }}
        fontFamily={FONT}
      >
        {PANELS.map((p, i) => (
          <g key={i}>
            <rect x={p.x0} y={42} width={p.x1 - p.x0} height={TOP - 42} fill="#cccccc" stroke="#7f7f7f" />
            <text x={(p.x0 + p.x1) / 2} y={63} textAnchor="middle" fontSize={18} fill="#1a1a1a">
              {facetTitles[i]}
            </text>
            <rect x={p.x0} y={TOP} width={p.x1 - p.x0} height={BOTTOM - TOP} fill="none" stroke="#7f7f7f" />
          </g>
        ))}
        <text x={703} y={575} textAnchor="middle" fontSize={23} fill="#000">
          Maximum RMSD100 (right) and mRNA level (left) for proteins of <tspan fontStyle="italic">H. sapiens</tspan>
        </text>
        <text transform="translate(24,293) rotate(-90)" textAnchor="middle" fontSize={23} fill="#000">
          dN estimated between <tspan fontStyle="italic">H. sapiens</tspan> and{" "}
          <tspan fontStyle="italic">A. melanoleuca</tspan>
        </text>
      </svg>
    </div>
  );
}
